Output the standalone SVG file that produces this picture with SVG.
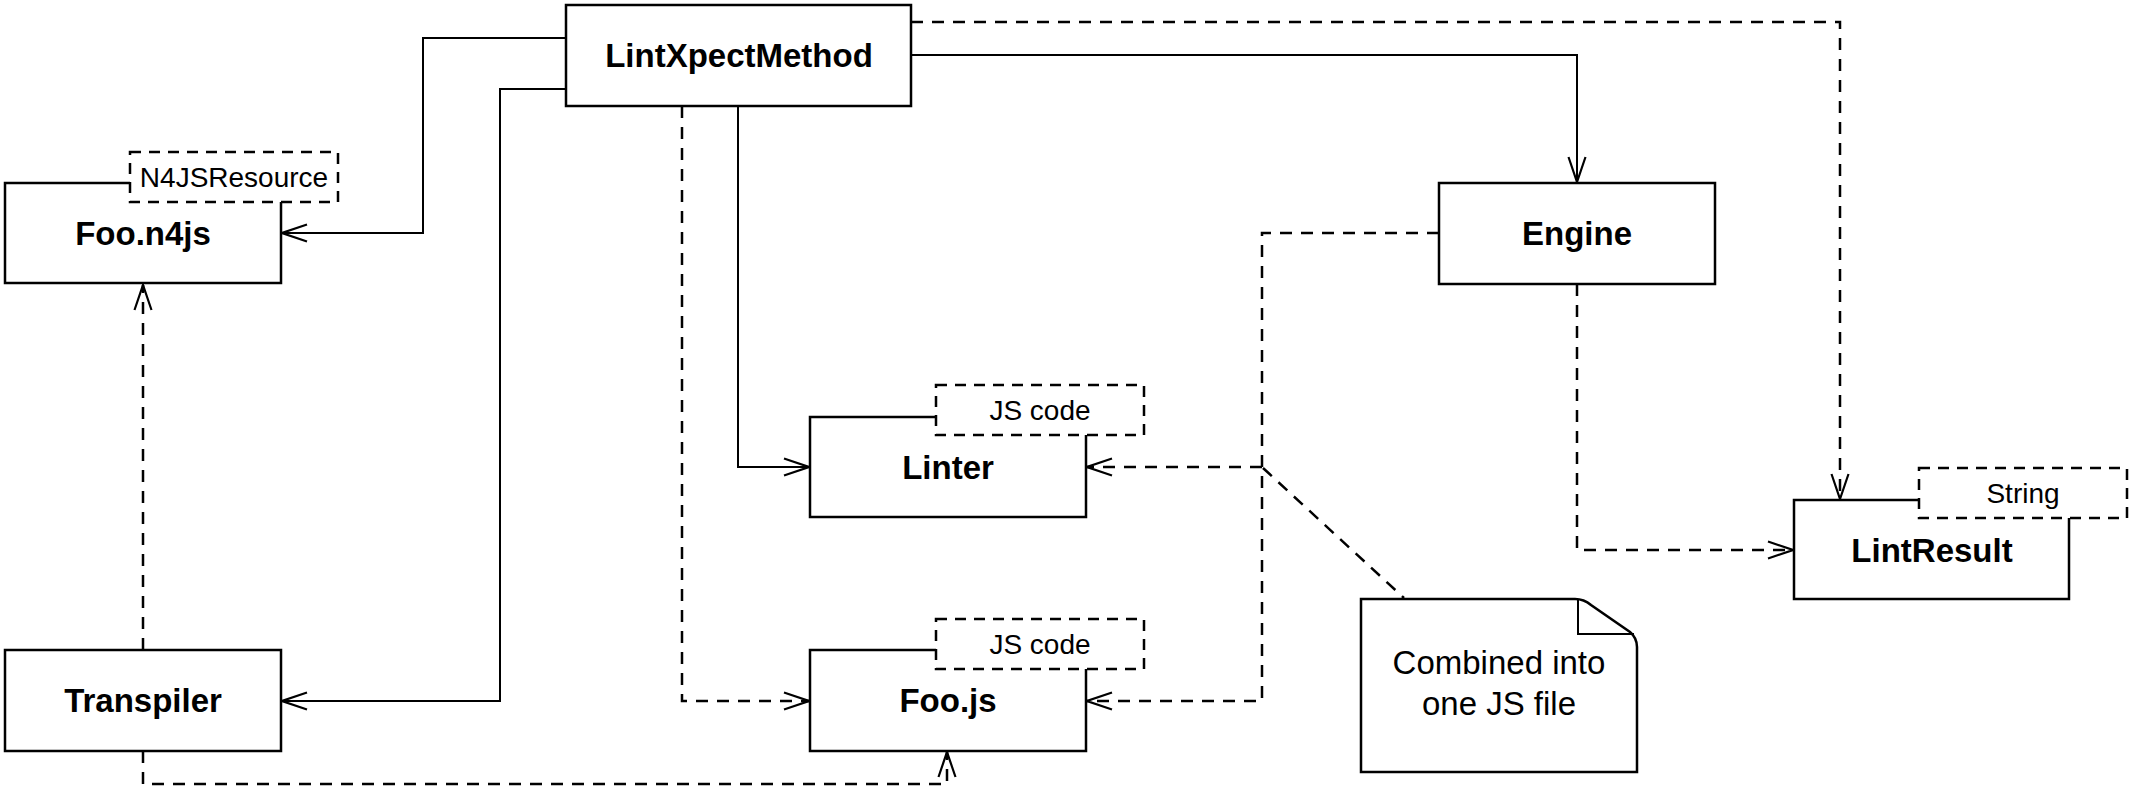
<svg xmlns="http://www.w3.org/2000/svg" width="2134" height="792" viewBox="0 0 2134 792">
<style>
.box{fill:#fff;stroke:#000;stroke-width:2.5}
.tag{fill:#fff;stroke:#000;stroke-width:2.5;stroke-dasharray:11 8}
.ln{fill:none;stroke:#000;stroke-width:2}
.dl{fill:none;stroke:#000;stroke-width:2.5;stroke-dasharray:12 9}
.b{font-family:"Liberation Sans",Arial,Helvetica,sans-serif;font-weight:bold;font-size:33px;text-anchor:middle}
.s{font-family:"Liberation Sans",Arial,Helvetica,sans-serif;font-size:28px;text-anchor:middle}
.n{font-family:"Liberation Sans",Arial,Helvetica,sans-serif;font-size:33px;text-anchor:middle}
</style>
<defs>
<marker id="ar" markerUnits="userSpaceOnUse" markerWidth="30" markerHeight="22" viewBox="-27 -11 30 22" refX="0" refY="0" orient="auto">
<path d="M-25,-8.5 L0,0 L-25,8.5" fill="none" stroke="#000" stroke-width="2.2" stroke-dasharray="none"/>
</marker>
</defs>
<rect width="2134" height="792" fill="#fff"/>
<g id="connectors">
<path class="ln" d="M566,38 H423 V233 H282" marker-end="url(#ar)"/>
<path class="ln" d="M566,89 H500 V701 H282" marker-end="url(#ar)"/>
<path class="ln" d="M911,55 H1577 V182" marker-end="url(#ar)"/>
<path class="dl" d="M911,22 H1840 V499" marker-end="url(#ar)"/>
<path class="ln" d="M738,106 V467 H809" marker-end="url(#ar)"/>
<path class="dl" d="M682,106 V701 H809" marker-end="url(#ar)"/>
<path class="dl" d="M143,650 V285" marker-end="url(#ar)"/>
<path class="dl" d="M143,751 V784 H947 V752" marker-end="url(#ar)"/>
<path class="dl" d="M1439,233 H1262 V701 H1087" marker-end="url(#ar)"/>
<path class="dl" d="M1262,467 H1087" marker-end="url(#ar)"/>
<path class="dl" d="M1577,284 V550 H1793" marker-end="url(#ar)"/>
<path class="dl" d="M1263,468 L1404,598"/>
</g>
<g id="LintXpectMethod">
<rect class="box" x="566" y="5" width="345" height="101"/>
<text class="b" x="739" y="67">LintXpectMethod</text>
</g>
<g id="Foo.n4js">
<rect class="box" x="5" y="183" width="276" height="100"/>
<rect class="tag" x="130" y="152" width="208" height="50"/>
<text class="s" x="234" y="187">N4JSResource</text>
<text class="b" x="143" y="245">Foo.n4js</text>
</g>
<g id="Transpiler">
<rect class="box" x="5" y="650" width="276" height="101"/>
<text class="b" x="143" y="712">Transpiler</text>
</g>
<g id="Linter">
<rect class="box" x="810" y="417" width="276" height="100"/>
<rect class="tag" x="936" y="385" width="208" height="50"/>
<text class="s" x="1040" y="420">JS code</text>
<text class="b" x="948" y="479">Linter</text>
</g>
<g id="Foo.js">
<rect class="box" x="810" y="650" width="276" height="101"/>
<rect class="tag" x="936" y="619" width="208" height="50"/>
<text class="s" x="1040" y="654">JS code</text>
<text class="b" x="948" y="712">Foo.js</text>
</g>
<g id="Engine">
<rect class="box" x="1439" y="183" width="276" height="101"/>
<text class="b" x="1577" y="245">Engine</text>
</g>
<g id="LintResult">
<rect class="box" x="1794" y="500" width="275" height="99"/>
<rect class="tag" x="1919" y="468" width="208" height="50"/>
<text class="s" x="2023" y="503">String</text>
<text class="b" x="1932" y="562">LintResult</text>
</g>
<g id="note">
<path class="box" d="M1361,599 H1575 Q1584,599 1591,605 L1630,632 Q1637,638 1637,647 V772 H1361 Z"/>
<path class="ln" d="M1578,600 V634 H1634" stroke-width="2.5"/>
<text class="n" x="1499" y="674">Combined into</text>
<text class="n" x="1499" y="715">one JS file</text>
</g>
</svg>
